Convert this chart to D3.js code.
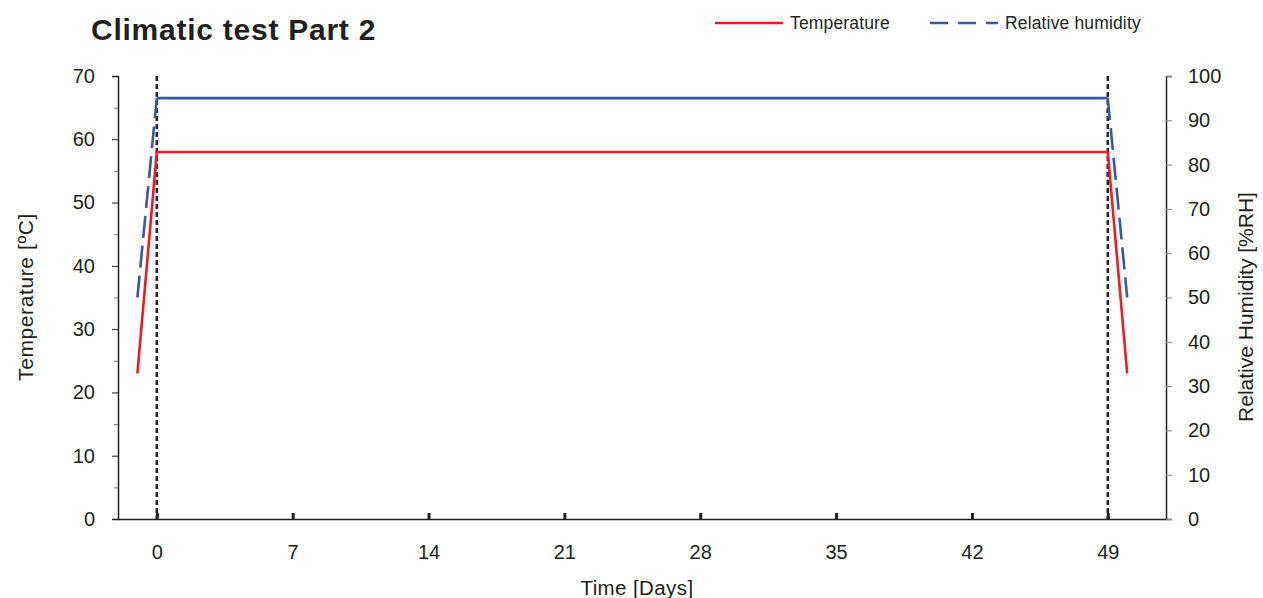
<!DOCTYPE html>
<html>
<head>
<meta charset="utf-8">
<script src="https://cdn.jsdelivr.net/npm/d3@7"></script>
<style>
  body { margin: 0; background: #fff; }
  svg { font-family: "Liberation Sans", Arial, sans-serif; }
</style>
</head>
<body>
<div id="chart"></div>
<script>
const days = [-1, 0, 49, 50];
const temperature = [23, 58, 58, 23];
const humidity = [50, 95, 95, 50];
const xTicks = [0, 7, 14, 21, 28, 35, 42, 49];
const markerDays = [0, 49];

const width = 1263, height = 598;
const margin = { left: 118, right: 1263 - 1166, top: 76, bottom: 598 - 519 };
const ink = '#231f20';

const svg = d3.select('#chart').append('svg')
  .attr('width', width)
  .attr('height', height);

const x = d3.scaleLinear().domain([-2, 52]).range([margin.left, width - margin.right]);
const yT = d3.scaleLinear().domain([0, 70]).range([height - margin.bottom, margin.top]);
const yH = d3.scaleLinear().domain([0, 100]).range([height - margin.bottom, margin.top]);

// left axis with minor ticks
const left = svg.append('g').attr('transform', `translate(${margin.left},0)`)
  .call(d3.axisLeft(yT).tickValues(d3.range(0, 71, 10)).tickSize(6).tickPadding(17));
const leftMinor = svg.append('g').attr('transform', `translate(${margin.left},0)`)
  .call(d3.axisLeft(yT).tickValues(d3.range(5, 70, 10)).tickSize(4).tickFormat(''));
leftMinor.select('.domain').remove();
leftMinor.selectAll('line').attr('stroke', '#777');

// right axis
const right = svg.append('g').attr('transform', `translate(${width - margin.right},0)`)
  .call(d3.axisRight(yH).tickValues(d3.range(0, 101, 10)).tickSize(6).tickPadding(16));

// bottom axis, ticks point inward
const bottom = svg.append('g').attr('transform', `translate(0,${height - margin.bottom})`)
  .call(d3.axisBottom(x).tickValues(xTicks).tickSize(-6).tickPadding(26).tickSizeOuter(0));

[left, right, bottom].forEach(g => {
  g.select('.domain').attr('stroke', ink).attr('stroke-width', 1.5);
  g.selectAll('text').attr('font-size', 20).attr('fill', ink).attr('font-family', null);
});
left.selectAll('.tick line').attr('stroke', ink);
right.selectAll('.tick line').attr('stroke', '#888');
bottom.selectAll('.tick line').attr('stroke', ink).attr('stroke-width', 3);

// vertical marker lines
svg.append('g').selectAll('line')
  .data(markerDays)
  .enter().append('line')
  .attr('x1', d => x(d)).attr('x2', d => x(d))
  .attr('y1', margin.top).attr('y2', height - margin.bottom)
  .attr('stroke', '#2a2a2a')
  .attr('stroke-width', 2.6)
  .attr('stroke-dasharray', '5,3');

// series drawn segment by segment: ramps dashed for humidity, plateau solid
function drawSeries(values, scale, color, dashed) {
  const segs = d3.pairs(days.map((d, i) => [d, values[i]]));
  svg.append('g').selectAll('path')
    .data(segs)
    .enter().append('path')
    .attr('d', s => d3.line().x(p => x(p[0])).y(p => scale(p[1]))(s))
    .attr('fill', 'none')
    .attr('stroke', color)
    .attr('stroke-width', 2.6)
    .attr('stroke-dasharray', s => (dashed && s[0][1] !== s[1][1]) ? '22,8' : null);
}
drawSeries(temperature, yT, '#ed1c24', false);
drawSeries(humidity, yH, '#3a58a8', true);

// title
svg.append('text')
  .attr('x', 91).attr('y', 40)
  .attr('font-size', 30).attr('font-weight', 'bold').attr('fill', ink)
  .attr('letter-spacing', 0.75)
  .text('Climatic test Part 2');

// legend
const legend = [
  { name: 'Temperature', color: '#ed1c24', dash: null, x: 715 },
  { name: 'Relative humidity', color: '#3a58a8', dash: '18,10', x: 930 }
];
const lg = svg.append('g').selectAll('g').data(legend).enter().append('g')
  .attr('transform', d => `translate(${d.x},23)`);
lg.append('line').attr('x1', 0).attr('x2', 68)
  .attr('stroke', d => d.color).attr('stroke-width', 2.6)
  .attr('stroke-dasharray', d => d.dash);
lg.append('text').attr('x', 75).attr('dy', '0.35em')
  .attr('font-size', 17.5).attr('letter-spacing', 0.15).attr('fill', ink)
  .text(d => d.name);

// axis titles
svg.append('text')
  .attr('transform', 'translate(33,297) rotate(-90)')
  .attr('text-anchor', 'middle').attr('font-size', 21).attr('letter-spacing', 0.6).attr('fill', ink)
  .text('Temperature [ºC]');
svg.append('text')
  .attr('transform', 'translate(1253,307) rotate(-90)')
  .attr('text-anchor', 'middle').attr('font-size', 21).attr('fill', ink)
  .text('Relative Humidity [%RH]');
svg.append('text')
  .attr('x', 637).attr('y', 595)
  .attr('text-anchor', 'middle').attr('font-size', 20.5).attr('letter-spacing', 0.4).attr('fill', ink)
  .text('Time [Days]');
</script>
</body>
</html>
